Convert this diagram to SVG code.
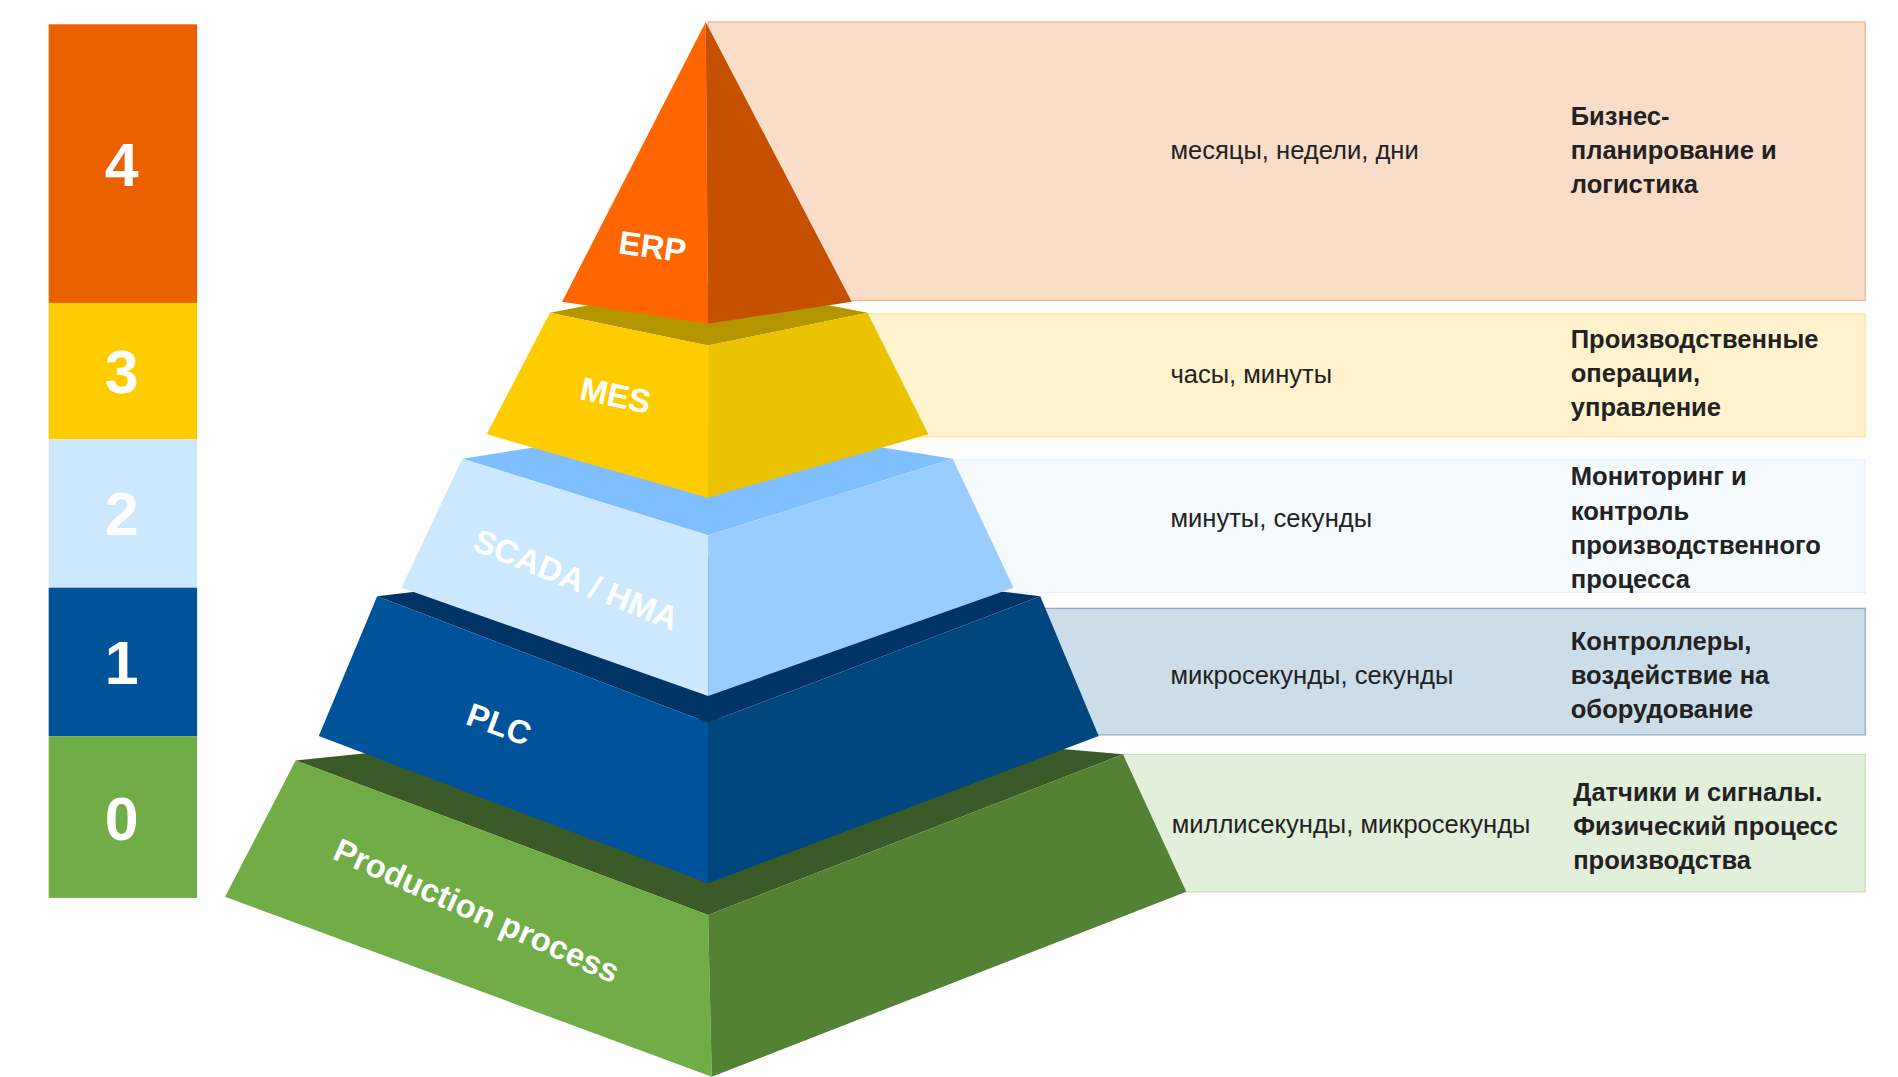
<svg xmlns="http://www.w3.org/2000/svg" width="1898" height="1077" viewBox="0 0 1898 1077">
<style>
.num{font-family:"Liberation Sans",Arial,sans-serif;font-weight:bold;font-size:50px;fill:#fff;text-anchor:middle}
.lbl{font-family:"Liberation Sans",Arial,sans-serif;font-weight:bold;font-size:27px;fill:#fff;text-anchor:middle}
.t{font-family:"Liberation Sans",Arial,sans-serif;font-size:21px;fill:#222}
.b{font-family:"Liberation Sans",Arial,sans-serif;font-size:21px;font-weight:bold;fill:#222}
</style>
<rect width="1898" height="1077" fill="#fff"/>
<g transform="scale(1.2167)">
<g id="levels">
<rect x="40" y="20" width="122" height="229" fill="#EB6100"/><text class="num" x="100" y="153">4</text>
<rect x="40" y="249" width="122" height="112" fill="#FFCC00"/><text class="num" x="100" y="323">3</text>
<rect x="40" y="361" width="122" height="122" fill="#CCE8FF"/><text class="num" x="100" y="440">2</text>
<rect x="40" y="483" width="122" height="122" fill="#00539B"/><text class="num" x="100" y="562">1</text>
<rect x="40" y="605" width="122" height="133" fill="#70AD47"/><text class="num" x="100" y="690">0</text>
</g>
<g id="bands">
<rect x="582" y="18" width="951" height="229" fill="#FADDC8" stroke="#F4B183"/>
<rect x="713" y="258" width="820" height="101" fill="#FFF2CC" stroke="#FFE699"/>
<rect x="783" y="378" width="750" height="109" fill="#F5FAFF" stroke="#E6F0FA"/>
<rect x="855" y="500" width="678" height="104" fill="#CCDDEA" stroke="#8EA9C8"/>
<rect x="923" y="620" width="610" height="113" fill="#E2EFDA" stroke="#C5E0B4"/>
</g>
<g id="prod">
<polygon points="243,625 582,590 923,620 582,752" fill="#3A5A28"/>
<polygon points="243,625 582,752 585,885 185,737" fill="#70AD47"/>
<polygon points="582,752 923,620 975,733 585,885" fill="#548235"/>
<text class="lbl" transform="translate(388,757) rotate(24)">Production process</text>
</g>
<g id="plc">
<polygon points="310,490 582,458 855,490 582,594" fill="#003366"/>
<polygon points="310,490 582,594 582,726 262,605" fill="#00539B"/>
<polygon points="582,594 855,490 903,605 582,726" fill="#00467F"/>
<text class="lbl" transform="translate(407,604) rotate(20)">PLC</text>
</g>
<g id="scada">
<polygon points="380,377 582,345 783,377 582,440" fill="#80BFFF"/>
<polygon points="380,377 582,440 582,572 330,483" fill="#CCE8FF"/>
<polygon points="582,440 783,377 833,483 582,572" fill="#99CCFF"/>
<text class="lbl" transform="translate(470,485) rotate(22)">SCADA / HMA</text>
</g>
<g id="mes">
<polygon points="452,257 582,232 713,257 582,284" fill="#B39500"/>
<polygon points="452,257 582,284 582,409 400,357" fill="#FFCC00"/>
<polygon points="582,284 713,257 763,357 582,409" fill="#EBC200"/>
<text class="lbl" transform="translate(504,334) rotate(12)">MES</text>
</g>
<g id="erp">
<polygon points="580,18 462,248 582,266" fill="#FF6600"/>
<polygon points="580,18 700,248 582,266" fill="#C55000"/>
<text class="lbl" transform="translate(535,212) rotate(8)">ERP</text>
</g>
<g id="texts">
<text class="t" x="962" y="131">месяцы, недели, дни</text>
<text class="b" x="1291" y="103">Бизнес-</text><text class="b" x="1291" y="131">планирование и</text><text class="b" x="1291" y="159">логистика</text>
<text class="t" x="962" y="315">часы, минуты</text>
<text class="b" x="1291" y="286">Производственные</text><text class="b" x="1291" y="314">операции,</text><text class="b" x="1291" y="342">управление</text>
<text class="t" x="962" y="433">минуты, секунды</text>
<text class="b" x="1291" y="399">Мониторинг и</text><text class="b" x="1291" y="427">контроль</text><text class="b" x="1291" y="455">производственного</text><text class="b" x="1291" y="483">процесса</text>
<text class="t" x="962" y="562">микросекунды, секунды</text>
<text class="b" x="1291" y="534">Контроллеры,</text><text class="b" x="1291" y="562">воздействие на</text><text class="b" x="1291" y="590">оборудование</text>
<text class="t" x="963" y="685">миллисекунды, микросекунды</text>
<text class="b" x="1293" y="658">Датчики и сигналы.</text><text class="b" x="1293" y="686">Физический процесс</text><text class="b" x="1293" y="714">производства</text>
</g>
</g>
</svg>
